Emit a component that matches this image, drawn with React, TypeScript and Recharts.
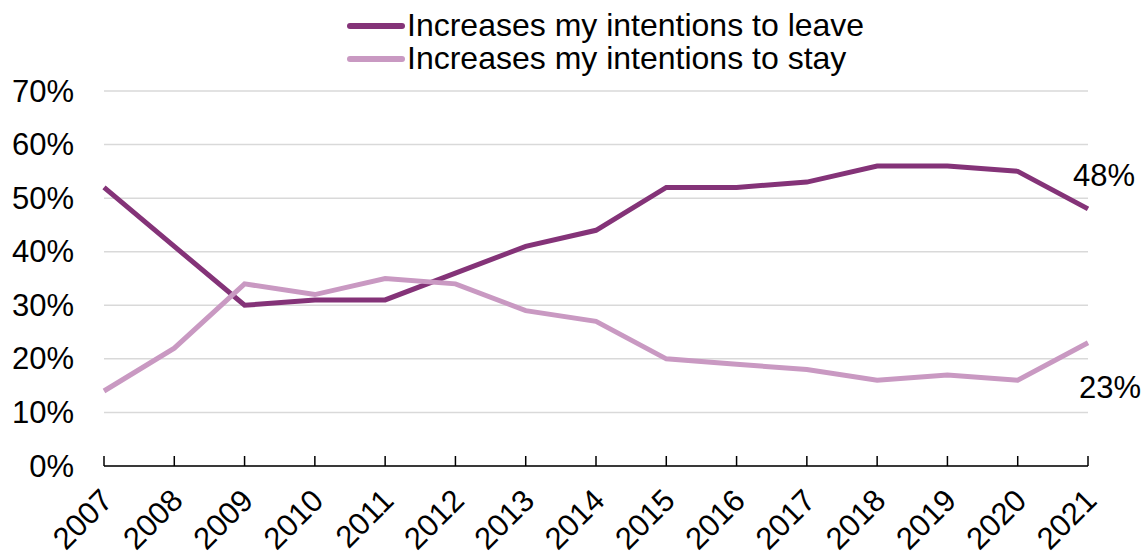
import React from "react";
import { LineChart, Line, XAxis, YAxis, CartesianGrid, Legend, LabelList } from "recharts";

const years = ["2007","2008","2009","2010","2011","2012","2013","2014","2015","2016","2017","2018","2019","2020","2021"];
const leave = [52, 41, 30, 31, 31, 36, 41, 44, 52, 52, 53, 56, 56, 55, 48];
const stay = [14, 22, 34, 32, 35, 34, 29, 27, 20, 19, 18, 16, 17, 16, 23];
const yTicks = [0, 10, 20, 30, 40, 50, 60, 70];
const seriesNames = ["Increases my intentions to leave", "Increases my intentions to stay"];
const colors = ["#843378", "#c999c2"];

const data = years.map((y, i) => ({ year: y, leave: leave[i], stay: stay[i] }));

const FONT = "'Liberation Sans', Arial, sans-serif";

const XTick = (props: any) => {
  const { x, y, payload } = props;
  const ax = x + 3;
  const ay = y + 29;
  return (
    <g>
      <line x1={x} y1={y} x2={x} y2={y - 10} stroke="#000" strokeWidth={1.5} />
      <text
        x={ax}
        y={ay}
        textAnchor="end"
        dominantBaseline="central"
        transform={`rotate(-45, ${ax}, ${ay})`}
        fontSize={31}
        fontFamily={FONT}
        fill="#000"
      >
        {payload.value}
      </text>
    </g>
  );
};

const YTick = (props: any) => {
  const { y, payload } = props;
  return (
    <text x={74} y={y} textAnchor="end" dominantBaseline="central" fontSize={31} fontFamily={FONT} fill="#000">
      {payload.value}%
    </text>
  );
};

const makeEndLabel = (dx: number, dy: number) => (props: any) => {
  const { x, y, value, index } = props;
  if (index !== years.length - 1) return null;
  return (
    <text x={x + dx} y={y + dy} textAnchor="middle" dominantBaseline="central" fontSize={31} fontFamily={FONT} fill="#000">
      {value}%
    </text>
  );
};

const LegendContent = () => (
  <div style={{ paddingTop: 9, fontFamily: FONT, fontSize: 32 }}>
    {seriesNames.map((n, i) => (
      <div key={n} style={{ display: "flex", alignItems: "center", height: 33, lineHeight: "33px", whiteSpace: "nowrap" }}>
        <svg width={60} height={10} style={{ display: "block" }}>
          <line x1={3} y1={5} x2={55} y2={5} stroke={colors[i]} strokeWidth={6} strokeLinecap="round" />
        </svg>
        <span style={{ color: "#000" }}>{n}</span>
      </div>
    ))}
  </div>
);

export default function App() {
  return (
    <div style={{ position: "absolute", left: 0, top: 0, width: 1147, height: 558, background: "#fff" }}>
      <LineChart width={1147} height={558} data={data} margin={{ top: 15, right: 59, left: 0, bottom: 0 }}>
        <CartesianGrid vertical={false} stroke="#d9d9d9" strokeWidth={1.5} />
        <XAxis
          dataKey="year"
          height={92}
          tick={<XTick />}
          tickLine={false}
          tickSize={0}
          tickMargin={0}
          axisLine={{ stroke: "#000", strokeWidth: 1.5 }}
          interval={0}
        />
        <YAxis
          width={104}
          domain={[0, 70]}
          ticks={yTicks}
          tick={<YTick />}
          tickLine={false}
          axisLine={false}
          interval={0}
        />
        <Legend
          verticalAlign="top"
          align="left"
          content={<LegendContent />}
          wrapperStyle={{ left: 347, top: 0, width: 700, height: 76 }}
        />
        <Line
          type="linear"
          dataKey="leave"
          name={seriesNames[0]}
          stroke={colors[0]}
          strokeWidth={5}
          dot={false}
          isAnimationActive={false}
        >
          <LabelList dataKey="leave" content={makeEndLabel(16, -33)} />
        </Line>
        <Line
          type="linear"
          dataKey="stay"
          name={seriesNames[1]}
          stroke={colors[1]}
          strokeWidth={5}
          dot={false}
          isAnimationActive={false}
        >
          <LabelList dataKey="stay" content={makeEndLabel(22, 45)} />
        </Line>
      </LineChart>
    </div>
  );
}
